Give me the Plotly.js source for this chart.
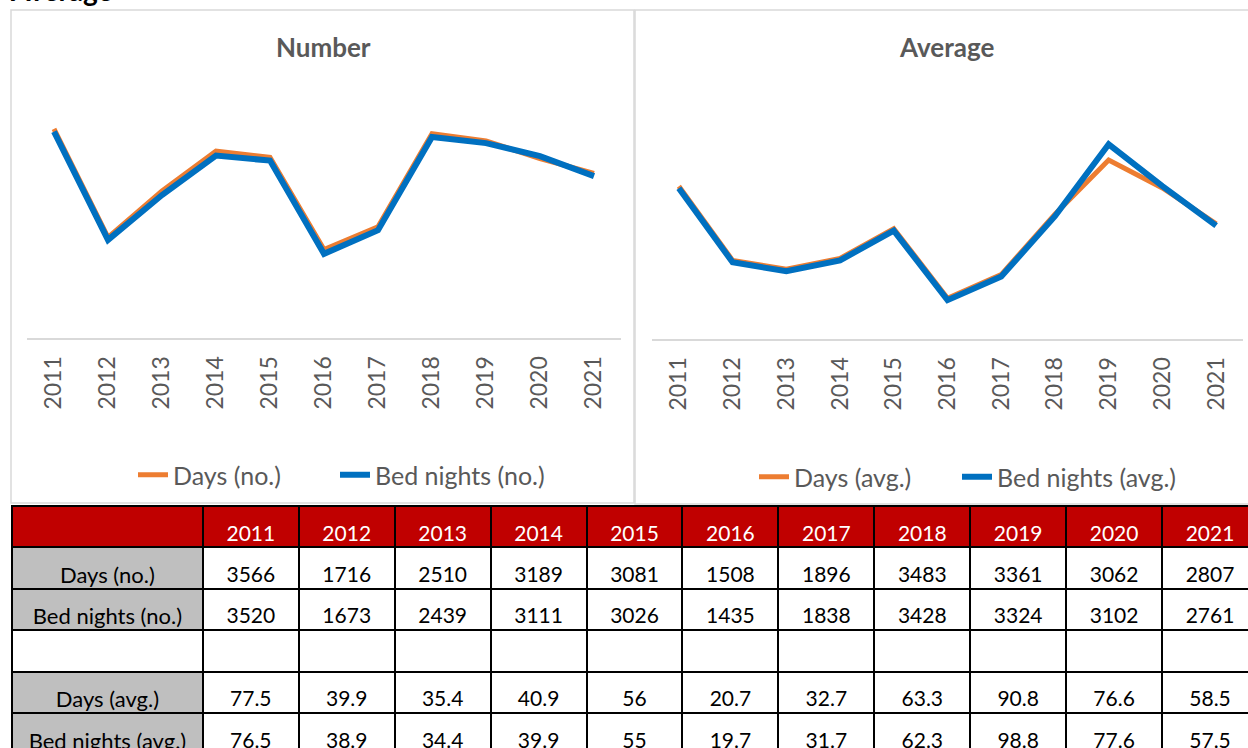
<!DOCTYPE html>
<html>
<head>
<meta charset="utf-8">
<script src="https://cdn.plot.ly/plotly-3.0.1.min.js"></script>
<style>
html, body { margin:0; padding:0; overflow:hidden; background:#ffffff; }
#chart { width:1262px; height:790px; }
</style>
</head>
<body>
<div id="chart"></div>
<script>
// ---- data ----
const years = ['2011','2012','2013','2014','2015','2016','2017','2018','2019','2020','2021'];
const daysNo = [3566, 1716, 2510, 3189, 3081, 1508, 1896, 3483, 3361, 3062, 2807];
const bedNightsNo = [3520, 1673, 2439, 3111, 3026, 1435, 1838, 3428, 3324, 3102, 2761];
const daysAvg = [77.5, 39.9, 35.4, 40.9, 56, 20.7, 32.7, 63.3, 90.8, 76.6, 58.5];
const bedNightsAvg = [76.5, 38.9, 34.4, 39.9, 55, 19.7, 31.7, 62.3, 98.8, 77.6, 57.5];
const rowLabels = ['Days (no.)', 'Bed nights (no.)', '', 'Days (avg.)', 'Bed nights (avg.)'];
const seriesNames = ['Days (no.)', 'Bed nights (no.)', 'Days (avg.)', 'Bed nights (avg.)'];
const panelTitles = ['Number', 'Average'];
const pageTitle = 'Average';

// ---- geometry helpers (pixel -> paper) ----
const W = 1262, H = 790;
const px = x => x / W;
const py = y => 1 - y / H;

const FONT = 'Lato, "Open Sans", sans-serif';
const ORANGE = '#ED7D31', BLUE = '#0070C0', GREY = '#595959';

const traces = [
  {type:'scatter', mode:'lines', x:years, y:daysNo, name:seriesNames[0],
   line:{color:ORANGE, width:5}, xaxis:'x', yaxis:'y', legend:'legend'},
  {type:'scatter', mode:'lines', x:years, y:bedNightsNo, name:seriesNames[1],
   line:{color:BLUE, width:6}, xaxis:'x', yaxis:'y', legend:'legend2'},
  {type:'scatter', mode:'lines', x:years, y:daysAvg, name:seriesNames[2],
   line:{color:ORANGE, width:5}, xaxis:'x2', yaxis:'y2', legend:'legend3'},
  {type:'scatter', mode:'lines', x:years, y:bedNightsAvg, name:seriesNames[3],
   line:{color:BLUE, width:6}, xaxis:'x2', yaxis:'y2', legend:'legend4'}
];

// table columns built from data arrays
const cellCols = [rowLabels];
const blankCols = [rowLabels.map(() => '')];
years.forEach((yr, i) => {
  cellCols.push([String(daysNo[i]), String(bedNightsNo[i]), '', String(daysAvg[i]), String(bedNightsAvg[i])]);
  blankCols.push(['', '', '', '', '']);
});
const cellFills = [['#BFBFBF','#BFBFBF','#FFFFFF','#BFBFBF','#BFBFBF']];
years.forEach(() => cellFills.push(['#FFFFFF','#FFFFFF','#FFFFFF','#FFFFFF','#FFFFFF']));
const colWidths = [191].concat(years.map(() => 96));
const cellFontSizes = [22].concat(years.map(() => 21));

// grid layer: fills and borders
traces.push({
  type:'table',
  domain:{x:[px(12), px(1258)], y:[0, py(506)]},
  columnwidth:colWidths,
  header:{
    values:years.map(() => '').concat(['']),
    fill:{color:'#C00000'},
    line:{color:'#000000', width:2},
    font:{family:FONT, size:21, color:'#FFFFFF'},
    align:'center',
    height:41
  },
  cells:{
    values:blankCols,
    fill:{color:cellFills},
    line:{color:'#000000', width:2},
    font:{family:FONT, size:21, color:'#000000'},
    align:'center',
    height:41.5
  }
});
// text layer: same table, text lowered to sit near the cell bottoms
traces.push({
  type:'table',
  domain:{x:[px(12), px(1258)], y:[0, py(517)]},
  columnwidth:colWidths,
  header:{
    values:[''].concat(years),
    fill:{color:'rgba(0,0,0,0)'},
    line:{color:'rgba(0,0,0,0)', width:0},
    font:{family:FONT, size:21, color:'#FFFFFF'},
    align:'center',
    height:41
  },
  cells:{
    values:cellCols,
    fill:{color:'rgba(0,0,0,0)'},
    line:{color:'rgba(0,0,0,0)', width:0},
    font:{family:FONT, size:cellFontSizes, color:'#000000'},
    align:'center',
    height:41.5
  }
});

const xaxisBase = {
  type:'category', range:[-0.5, 10.5], showgrid:false, zeroline:false,
  showline:true, linecolor:'#D9D9D9', linewidth:2, ticks:'',
  tickangle:-90, ticklabelstandoff:7,
  tickfont:{family:FONT, size:23, color:GREY}, fixedrange:true
};
const yaxisBase = {visible:false, showgrid:false, zeroline:false, fixedrange:true};

const legendBase = {
  orientation:'h', xanchor:'left', yanchor:'middle',
  bgcolor:'rgba(0,0,0,0)', font:{family:FONT, size:25, color:GREY}
};

const layout = {
  width:W, height:H,
  margin:{l:0, r:0, t:0, b:0},
  paper_bgcolor:'#FFFFFF', plot_bgcolor:'rgba(0,0,0,0)',
  showlegend:true,
  xaxis:Object.assign({}, xaxisBase, {domain:[px(27), px(621)], anchor:'y'}),
  yaxis:Object.assign({}, yaxisBase, {domain:[py(338), py(103.5)], range:[0, 4000], anchor:'x'}),
  xaxis2:Object.assign({}, xaxisBase, {domain:[px(652), px(1243)], anchor:'y2'}),
  yaxis2:Object.assign({}, yaxisBase, {domain:[py(339), py(102.5)], range:[0, 120], anchor:'x2'}),
  legend:Object.assign({}, legendBase, {x:px(133), y:py(475)}),
  legend2:Object.assign({}, legendBase, {x:px(335), y:py(475)}),
  legend3:Object.assign({}, legendBase, {x:px(754), y:py(477)}),
  legend4:Object.assign({}, legendBase, {x:px(957), y:py(477)}),
  shapes:[
    {type:'rect', xref:'paper', yref:'paper', x0:px(11), x1:px(634), y0:py(503), y1:py(10),
     line:{color:'#D9D9D9', width:1.5}, fillcolor:'rgba(0,0,0,0)', layer:'below'},
    {type:'rect', xref:'paper', yref:'paper', x0:px(635), x1:px(1275), y0:py(504), y1:py(10),
     line:{color:'#D9D9D9', width:1.5}, fillcolor:'rgba(0,0,0,0)', layer:'below'}
  ],
  annotations:[
    {text:'<b>' + panelTitles[0] + '</b>', xref:'paper', yref:'paper', x:px(323), y:py(47),
     xanchor:'center', yanchor:'middle', showarrow:false, font:{family:FONT, size:26, color:GREY}},
    {text:'<b>' + panelTitles[1] + '</b>', xref:'paper', yref:'paper', x:px(946), y:py(47),
     xanchor:'center', yanchor:'middle', showarrow:false, font:{family:FONT, size:26, color:GREY}},
    {text:'<b>' + pageTitle + '</b>', xref:'paper', yref:'paper', x:px(8), y:py(9),
     xanchor:'left', yanchor:'bottom', showarrow:false, font:{family:FONT, size:28, color:'#000000'}}
  ]
};

Plotly.newPlot('chart', traces, layout, {displayModeBar:false, staticPlot:true});
</script>
</body>
</html>
